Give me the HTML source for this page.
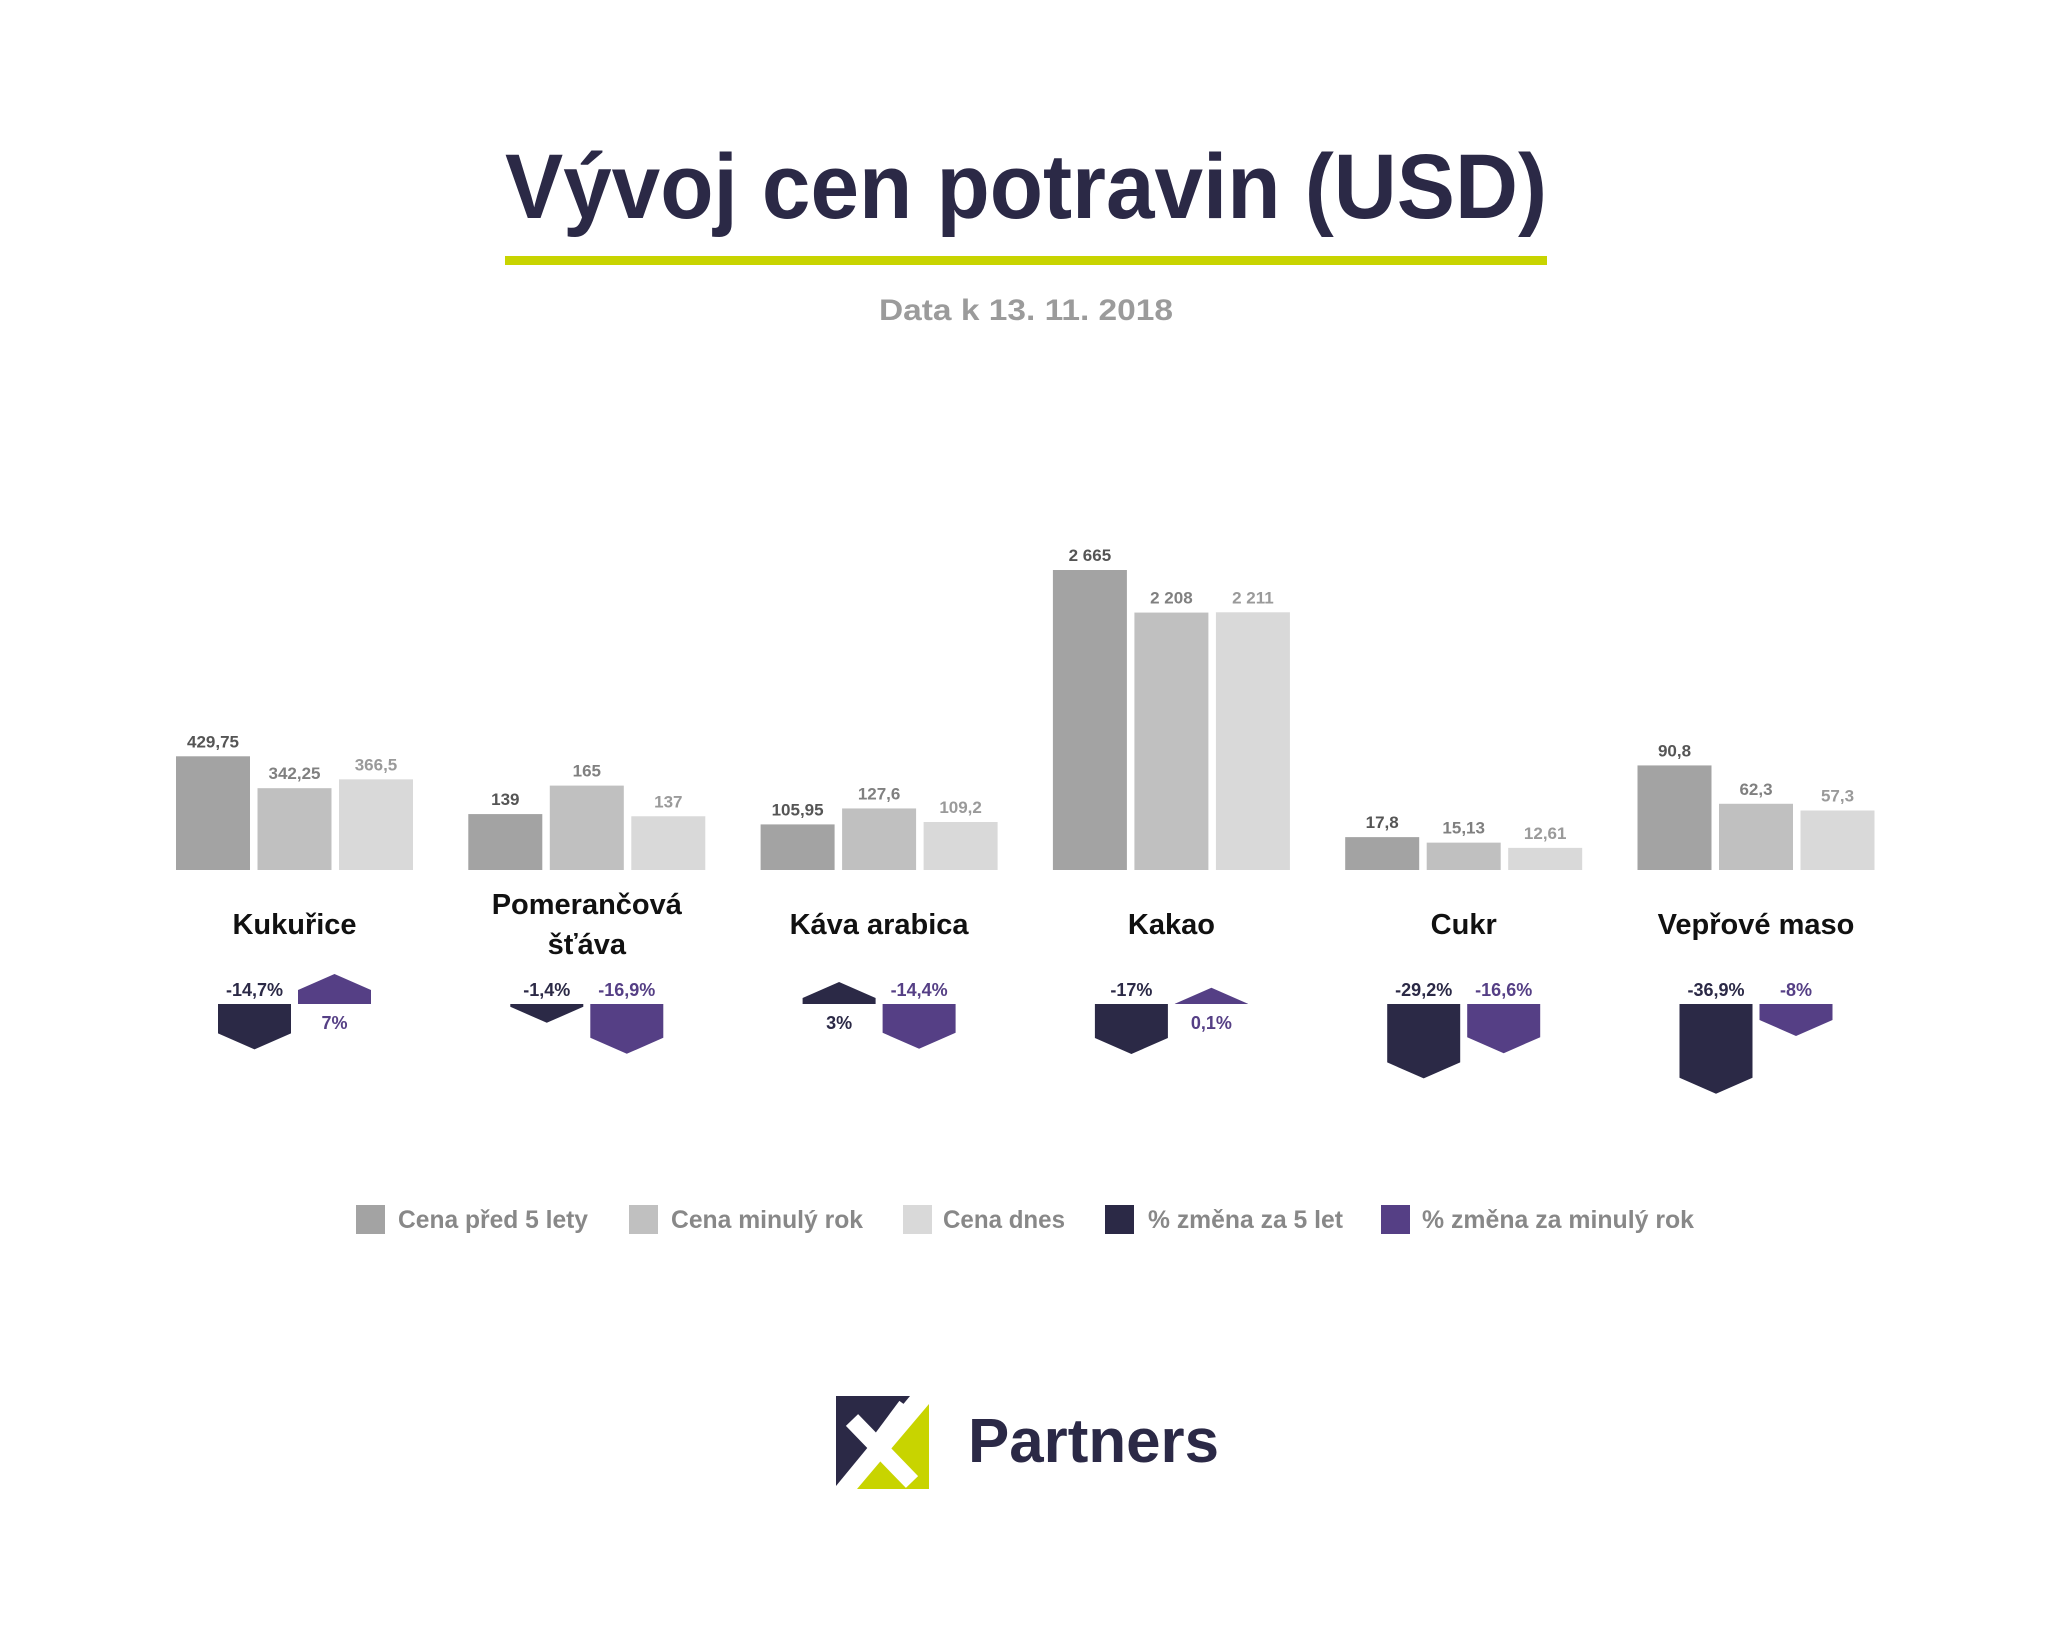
<!DOCTYPE html>
<html><head><meta charset="utf-8"><style>
html,body{margin:0;padding:0;background:#fff}
svg{display:block}
text{font-family:"Liberation Sans",sans-serif;font-weight:bold}
</style></head><body>
<svg id="chart" width="2048" height="1629" viewBox="0 0 2048 1629" xmlns="http://www.w3.org/2000/svg">
<rect width="2048" height="1629" fill="#fff"/>
<text x="505" y="218" font-size="92" fill="#2b2946" textLength="1042" lengthAdjust="spacingAndGlyphs">Vývoj cen potravin (USD)</text>
<rect x="505" y="256" width="1042" height="9" fill="#c8d400"/>
<text x="1026" y="320" font-size="30" fill="#9b9b9b" text-anchor="middle" textLength="294" lengthAdjust="spacingAndGlyphs">Data k 13. 11. 2018</text>
<g id="plot"></g>
<g>
 <rect x="356" y="1205" width="29" height="29" fill="#a3a3a3"/>
 <text x="398" y="1228" font-size="25" fill="#888" textLength="190" lengthAdjust="spacingAndGlyphs">Cena před 5 lety</text>
 <rect x="629" y="1205" width="29" height="29" fill="#c0c0c0"/>
 <text x="671" y="1228" font-size="25" fill="#888" textLength="192" lengthAdjust="spacingAndGlyphs">Cena minulý rok</text>
 <rect x="903" y="1205" width="29" height="29" fill="#d9d9d9"/>
 <text x="943" y="1228" font-size="25" fill="#888" textLength="122" lengthAdjust="spacingAndGlyphs">Cena dnes</text>
 <rect x="1105" y="1205" width="29" height="29" fill="#2b2946"/>
 <text x="1148" y="1228" font-size="25" fill="#888" textLength="195" lengthAdjust="spacingAndGlyphs">% změna za 5 let</text>
 <rect x="1381" y="1205" width="29" height="29" fill="#553f85"/>
 <text x="1422" y="1228" font-size="25" fill="#888" textLength="272" lengthAdjust="spacingAndGlyphs">% změna za minulý rok</text>
</g>
<g>
 <rect x="836" y="1396" width="93" height="93" fill="#fff"/>
 <polygon points="836,1396 910,1396 836,1486" fill="#2b2946"/>
 <polygon points="929,1404 929,1489 857,1489" fill="#c8d400"/>
 <line x1="852" y1="1420" x2="912" y2="1482" stroke="#fff" stroke-width="17"/>
 <line x1="905" y1="1405" x2="876" y2="1444" stroke="#fff" stroke-width="14"/>
 <text x="968" y="1462" font-size="62" fill="#2b2946" textLength="251" lengthAdjust="spacingAndGlyphs">Partners</text>
</g>
</svg>
<script>
const categories = ["Kukuřice", "Pomerančová|šťáva", "Káva arabica", "Kakao", "Cukr", "Vepřové maso"];
const priceBefore5y = [429.75, 139, 105.95, 2665, 17.8, 90.8];
const priceLastYear = [342.25, 165, 127.6, 2208, 15.13, 62.3];
const priceToday = [366.5, 137, 109.2, 2211, 12.61, 57.3];
const labelsBefore5y = ["429,75", "139", "105,95", "2 665", "17,8", "90,8"];
const labelsLastYear = ["342,25", "165", "127,6", "2 208", "15,13", "62,3"];
const labelsToday = ["366,5", "137", "109,2", "2 211", "12,61", "57,3"];
const axisMin = [117.7, 87.9, 44.1, -556, 1.9, 13.1];
const axisMax = [941, 362, 451, 2665, 147, 236];
const change5y = [-14.7, -1.4, 3, -17, -29.2, -36.9];
const change1y = [7, -16.9, -14.4, 0.1, -16.6, -8];
const change5yLabels = ["-14,7%", "-1,4%", "3%", "-17%", "-29,2%", "-36,9%"];
const change1yLabels = ["7%", "-16,9%", "-14,4%", "0,1%", "-16,6%", "-8%"];

const NS = "http://www.w3.org/2000/svg";
const plot = document.getElementById("plot");
const BASE = 870, FULL = 300, BW = 74, PITCH = 81.5, G0 = 176, GSTEP = 292.3;
const ABASE = 1004, AW = 73, TRI = 16;
function groupX(i){ return G0 + i * GSTEP; }
function yScale(i, v){ return FULL * (v - axisMin[i]) / (axisMax[i] - axisMin[i]); }
function pctScale(v){ return 2 * Math.abs(v); }
function mk(tag, attrs){ const e = document.createElementNS(NS, tag); for (const k in attrs) e.setAttribute(k, attrs[k]); return e; }

const series = [
  {vals: priceBefore5y, labels: labelsBefore5y, fill: "#a3a3a3", tc: "#555555", key: "before-5y"},
  {vals: priceLastYear, labels: labelsLastYear, fill: "#c0c0c0", tc: "#808080", key: "last-year"},
  {vals: priceToday, labels: labelsToday, fill: "#d9d9d9", tc: "#9a9a9a", key: "today"}
];

categories.forEach((cat, i) => {
  const gx = groupX(i);
  const cx = gx + PITCH + BW / 2;
  series.forEach((s, j) => {
    const h = yScale(i, s.vals[i]);
    const x = gx + j * PITCH;
    const r = mk("rect", {x: x, y: BASE - h, width: BW, height: h, fill: s.fill});
    
    
    plot.appendChild(r);
    const t = mk("text", {x: x + BW / 2, y: BASE - h - 9, "font-size": 17, fill: s.tc, "text-anchor": "middle"});
    t.textContent = s.labels[i];
    
    
    plot.appendChild(t);
  });
  const lines = cat.split("|");
  lines.forEach((ln, k) => {
    const y = lines.length === 1 ? 934 : 914 + k * 40;
    const t = mk("text", {x: cx, y: y, "font-size": 29, fill: "#111", "text-anchor": "middle"});
    t.textContent = ln;
    
    
    plot.appendChild(t);
  });
  [[change5y, change5yLabels, "#2b2946", -40, "change-5y"], [change1y, change1yLabels, "#553f85", 40, "change-1y"]].forEach(([arr, labs, col, off, key]) => {
    const v = arr[i];
    const ax = cx + off - AW / 2;
    const r = pctScale(v);
    const d = v < 0 ? 1 : -1;
    const yr = ABASE + d * r, yt = ABASE + d * (r + TRI);
    const pts = [[ax, ABASE], [ax + AW, ABASE], [ax + AW, yr], [ax + AW / 2, yt], [ax, yr]].map(p => p.join(",")).join(" ");
    const p = mk("polygon", {points: pts, fill: col});
    
    
    plot.appendChild(p);
    const t = mk("text", {x: ax + AW / 2, y: v < 0 ? 996 : 1029, "font-size": 18, fill: col, "text-anchor": "middle"});
    t.textContent = labs[i];
    
    
    plot.appendChild(t);
  });
});
</script>
</body></html>
